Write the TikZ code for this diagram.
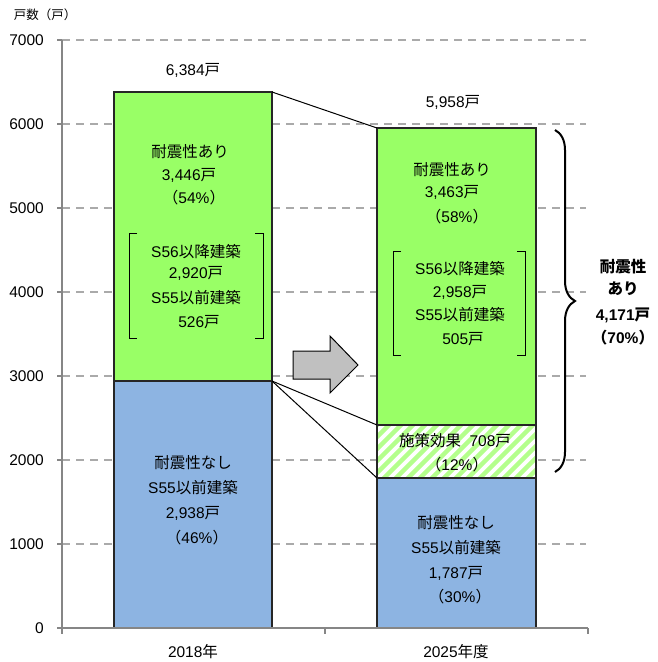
\documentclass[tikz,border=0pt]{standalone}
\usepackage{fontspec}
\setmainfont{Liberation Sans}
\newfontfamily\jp{Noto Sans CJK JP}
\usetikzlibrary{decorations.pathreplacing}

\definecolor{ariGreen}{RGB}{153,255,102}
\definecolor{stripeGreen}{RGB}{180,255,140}
\definecolor{nashiBlue}{RGB}{141,180,226}
\definecolor{gridGray}{RGB}{170,170,170}
\definecolor{axisGray}{RGB}{134,134,134}
\definecolor{arrowGray}{RGB}{192,192,192}

\begin{document}
\begin{tikzpicture}[x=1pt,y=-1pt,line join=miter,
  txt/.style={font=\fontsize{15.5}{17}\selectfont,inner sep=0pt},
  bold/.style={font=\fontsize{15.5}{17}\selectfont\bfseries,inner sep=0pt},
  bar/.style={draw=black!85,line width=1.2pt},
  gridline/.style={gridGray,line width=2pt,dash pattern=on 8pt off 6pt},
  axis/.style={axisGray,line width=1.5pt}]
  \useasboundingbox (0,0) rectangle (658,662);

  % 2018 bar
  \coordinate (b1tl) at (114,92);
  \coordinate (b1tr) at (272,92);
  \coordinate (b1ml) at (114,381);
  \coordinate (b1mr) at (272,381);
  \coordinate (b1br) at (272,628);

  % 2025 bar
  \coordinate (b2tl) at (377,128);
  \coordinate (b2hl) at (377,425);
  \coordinate (b2hr) at (536,425);
  \coordinate (b2bl) at (377,478);
  \coordinate (b2br) at (536,628);

  % grid
  \foreach \k in {1,...,7}
    \draw[gridline] (62,628-84*\k) -- (586,628-84*\k);
  \foreach \k in {0,...,7}{
    \pgfmathtruncatemacro{\val}{\k*1000}
    \draw[axis] (57,628-84*\k) -- (62,628-84*\k);
    \node[txt,anchor=east] (ylab\k) at (44,628-84*\k) {\val};
  }
  \node[font=\fontsize{12.5}{13}\selectfont\jp,inner sep=0pt] (yunit) at (45,15) {戸数（戸）};

  % bars
  \draw[bar,fill=ariGreen] (b1tl) rectangle (b1mr);
  \draw[bar,fill=nashiBlue] (b1ml) rectangle (b1br);
  \draw[bar,fill=ariGreen] (b2tl) rectangle (b2hr);
  \begin{scope}
    \clip (b2hl) rectangle (536,478);
    \fill[white] (b2hl) rectangle (536,478);
    \foreach \x in {312,324,...,540}
      \draw[stripeGreen,line width=4.5pt] (\x,490) -- ++(80,-80);
  \end{scope}
  \draw[bar] (b2hl) rectangle (536,478);
  \draw[bar,fill=nashiBlue] (b2bl) rectangle (b2br);

  % axes
  \draw[axis] (62,40) -- (62,628) -- (588,628);
  \foreach \x in {62,325,588}
    \draw[axis] (\x,628) -- (\x,634);

  % connectors
  \draw[line width=1pt] (b1tr) -- (b2tl);
  \draw[line width=1pt] (b1mr) -- (b2hl);
  \draw[line width=1pt] (b1mr) -- (b2bl);

  % block arrow
  \draw[line width=1pt,fill=arrowGray] (293,351) -- (330,351) -- (330,336) -- (358,365)
    -- (330,393) -- (330,379) -- (293,379) -- cycle;

  % brackets
  \draw[line width=1pt] (137,233) -- (129,233) -- (129,338) -- (137,338);
  \draw[line width=1pt] (255,233) -- (263,233) -- (263,338) -- (255,338);
  \draw[line width=1pt] (401,251) -- (393,251) -- (393,355) -- (401,355);
  \draw[line width=1pt] (517,251) -- (525,251) -- (525,355) -- (517,355);

  % brace
  \draw[line width=2pt,decorate,decoration={brace,amplitude=20pt,aspect=0.5}]
    (555,130) -- (555,472);

  % labels 2018
  \node[txt] (tot1) at (193,70) {6,384{\jp 戸}};
  \node[txt] (a1) at (190,152) {\jp 耐震性あり};
  \node[txt] (a1n) at (189,175) {3,446{\jp 戸}};
  \node[txt] (a1p) at (194,198) {{\jp （}54\%{\jp ）}};
  \node[txt] (s1a) at (196,252) {S56{\jp 以降建築}};
  \node[txt] (s1an) at (196,273) {2,920{\jp 戸}};
  \node[txt] (s1b) at (196,298) {S55{\jp 以前建築}};
  \node[txt] (s1bn) at (199,322) {526{\jp 戸}};
  \node[txt] (n1) at (193,463) {\jp 耐震性なし};
  \node[txt] (n1s) at (193,488) {S55{\jp 以前建築}};
  \node[txt] (n1n) at (193,513) {2,938{\jp 戸}};
  \node[txt] (n1p) at (197,538) {{\jp （}46\%{\jp ）}};

  % labels 2025
  \node[txt] (tot2) at (453,102) {5,958{\jp 戸}};
  \node[txt] (a2) at (452,170) {\jp 耐震性あり};
  \node[txt] (a2n) at (452,192) {3,463{\jp 戸}};
  \node[txt] (a2p) at (457,217) {{\jp （}58\%{\jp ）}};
  \node[txt] (s2a) at (460,269) {S56{\jp 以降建築}};
  \node[txt] (s2an) at (460,292) {2,958{\jp 戸}};
  \node[txt] (s2b) at (460,315) {S55{\jp 以前建築}};
  \node[txt] (s2bn) at (463,339) {505{\jp 戸}};
  \node[txt] (h2) at (455,441) {{\jp 施策効果}\ \ 708{\jp 戸}};
  \node[txt] (h2p) at (457,465) {{\jp （}12\%{\jp ）}};
  \node[txt] (n2) at (456,523) {\jp 耐震性なし};
  \node[txt] (n2s) at (456,548) {S55{\jp 以前建築}};
  \node[txt] (n2n) at (456,573) {1,787{\jp 戸}};
  \node[txt] (n2p) at (460,597) {{\jp （}30\%{\jp ）}};

  % brace label
  \node[bold] (r1) at (623,267) {\jp 耐震性};
  \node[bold] (r2) at (623,289) {\jp あり};
  \node[bold] (r3) at (623,315) {4,171{\jp 戸}};
  \node[bold] (r4) at (623,338) {{\jp （}70\%{\jp ）}};

  % x labels
  \node[txt] (x1) at (193,652) {2018{\jp 年}};
  \node[txt] (x2) at (456,652) {2025{\jp 年度}};
\end{tikzpicture}
\end{document}
